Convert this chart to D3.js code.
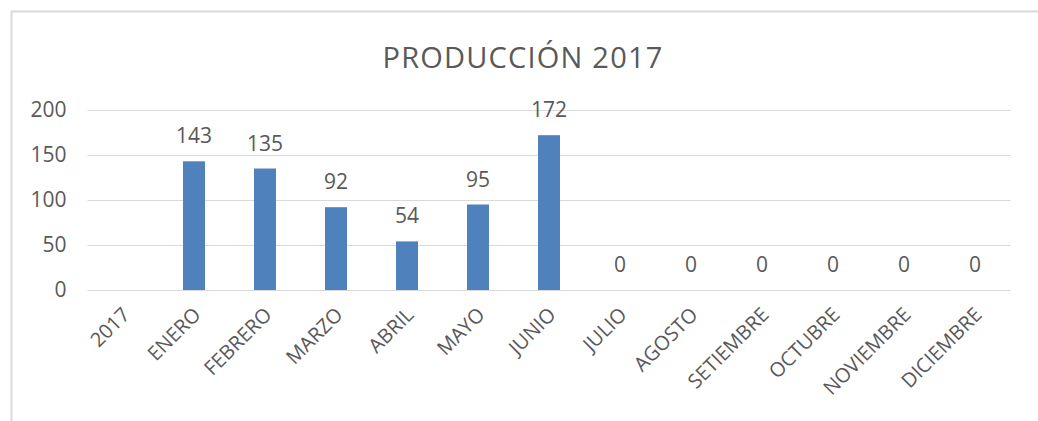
<!DOCTYPE html>
<html>
<head>
<meta charset="utf-8">
<script src="https://cdnjs.cloudflare.com/ajax/libs/d3/7.8.5/d3.min.js"></script>
<style>
  body { margin: 0; background: #fff; }
  text { font-family: "Open Sans", sans-serif; fill: #595959; }
</style>
</head>
<body>
<div id="chart"></div>
<script>
var categories = ["2017", "ENERO", "FEBRERO", "MARZO", "ABRIL", "MAYO", "JUNIO",
  "JULIO", "AGOSTO", "SETIEMBRE", "OCTUBRE", "NOVIEMBRE", "DICIEMBRE"];
var values = [null, 143, 135, 92, 54, 95, 172, 0, 0, 0, 0, 0, 0];
var yTicks = [0, 50, 100, 150, 200];
var title = "PRODUCCIÓN 2017";

var width = 1038, height = 421;
var plot = { left: 87.5, right: 1010.5, top: 110, bottom: 290 };

var svg = d3.select("#chart")
  .append("svg")
  .attr("width", width)
  .attr("height", height);

// chart area border
svg.append("rect")
  .attr("x", 11.5)
  .attr("y", 11.5)
  .attr("width", 1040)
  .attr("height", 430)
  .attr("fill", "none")
  .attr("stroke", "#d9d9d9")
  .attr("stroke-width", 2);

svg.append("text")
  .text(title)
  .attr("x", 523)
  .attr("y", 68)
  .attr("text-anchor", "middle")
  .attr("font-size", "29px")
  .style("letter-spacing", "1.2px");

var x = d3.scaleBand()
  .domain(categories)
  .range([plot.left, plot.right])
  .padding(0);

var y = d3.scaleLinear()
  .domain([0, 200])
  .range([plot.bottom, plot.top]);

// gridlines + y labels
var yAxis = d3.axisLeft(y)
  .tickValues(yTicks)
  .tickSize(-(plot.right - plot.left))
  .tickPadding(21);

var gy = svg.append("g")
  .attr("transform", "translate(" + plot.left + ",0)")
  .call(yAxis);
gy.select(".domain").remove();
gy.selectAll(".tick line").attr("stroke", "#d9d9d9").attr("stroke-width", 1);
gy.selectAll(".tick text")
  .attr("font-size", "21px")
  .attr("fill", "#595959")
  .style("font-family", "'Open Sans', sans-serif");

var barW = x.bandwidth() * 0.31;

var data = categories.map(function(c, i) {
  return { cat: c, value: values[i] };
});

svg.selectAll(".bar")
  .data(data.filter(function(d) { return d.value !== null; }))
  .enter().append("rect")
  .attr("class", "bar")
  .attr("x", function(d) { return x(d.cat) + x.bandwidth() / 2 - barW / 2; })
  .attr("y", function(d) { return y(d.value); })
  .attr("width", barW)
  .attr("height", function(d) { return y(0) - y(d.value); })
  .attr("fill", "#4F81BD");

svg.selectAll(".val")
  .data(data.filter(function(d) { return d.value !== null; }))
  .enter().append("text")
  .attr("class", "val")
  .text(function(d) { return d.value; })
  .attr("x", function(d) { return x(d.cat) + x.bandwidth() / 2; })
  .attr("y", function(d) { return y(d.value) - 18; })
  .attr("text-anchor", "middle")
  .attr("font-size", "21px");

// category labels, rotated
svg.selectAll(".cat")
  .data(categories)
  .enter().append("text")
  .attr("class", "cat")
  .text(function(d) { return d; })
  .attr("text-anchor", "end")
  .attr("font-size", "20px")
  .attr("transform", function(d) {
    return "translate(" + (x(d) + x.bandwidth() / 2 + 8) + "," + 316 + ") rotate(-45)";
  });
</script>
</body>
</html>
